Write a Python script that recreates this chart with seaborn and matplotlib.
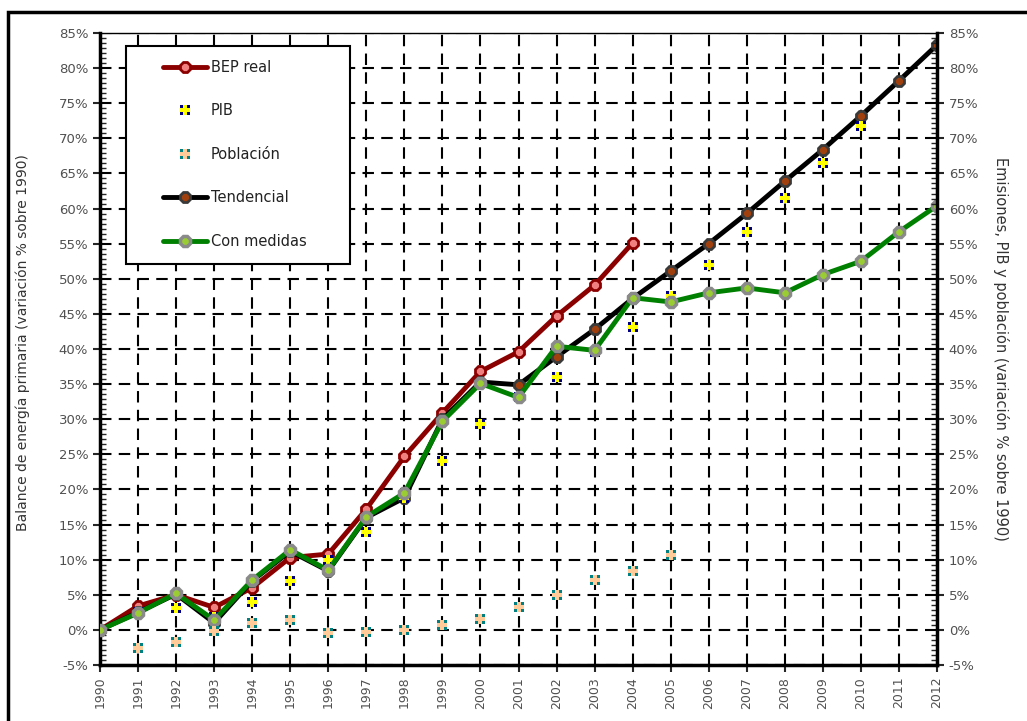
import numpy as np
import pandas as pd
import matplotlib
matplotlib.use("Agg")
import matplotlib.pyplot as plt
import seaborn as sns
from matplotlib.ticker import MultipleLocator, AutoMinorLocator, FuncFormatter
from matplotlib.patches import Rectangle
from matplotlib.legend_handler import HandlerTuple
from matplotlib.lines import Line2D

# datos (variacion % sobre 1990)
anios = list(range(1990, 2013))
bep_anios = list(range(1990, 2005))
bep_real = [0, 3.4, 5.0, 3.2, 6.0, 10.3, 10.8, 17.2, 24.7, 30.9, 36.8, 39.6, 44.7, 49.1, 55.1]
pib_anios = list(range(1991, 2011))
pib = [2.5, 3.1, 1.8, 4.0, 6.9, 9.9, 14.0, 18.8, 24.0, 29.3, 33.2, 36.0, 39.6, 43.2,
       47.5, 52.0, 56.7, 61.5, 66.5, 71.7]
pob_anios = list(range(1991, 2006))
poblacion = [-2.6, -1.7, -0.2, 1.0, 1.4, -0.5, -0.3, 0.0, 0.7, 1.5, 3.2, 5.0, 7.1, 8.4, 10.7]
tendencial = [0, 2.5, 5.1, 1.0, 7.0, 11.2, 8.4, 16.0, 18.8, 30.0, 35.3, 34.9, 38.9, 42.8,
              47.2, 51.1, 55.0, 59.3, 63.9, 68.4, 73.2, 78.2, 83.3]
con_medidas = [0, 2.4, 5.2, 1.4, 7.1, 11.4, 8.5, 16.1, 19.5, 29.7, 35.1, 33.1, 40.4, 39.8,
               47.3, 46.7, 48.0, 48.7, 48.0, 50.6, 52.5, 56.7, 60.4]

sns.set_style("white")
plt.rcParams['font.family'] = ['DejaVu Sans']

fig = plt.figure(figsize=(10.27, 7.21), dpi=100)
ax = fig.add_axes([100/1027, 1-665/721, 837/1027, 632/721])

rojo = '#8b0000'
ms = 7.5
sns.lineplot(x=bep_anios, y=bep_real, ax=ax, color=rojo, lw=3.5, marker='8', ms=ms,
             mfc='#f08080', mec=rojo, mew=2, zorder=3)
sns.lineplot(x=anios, y=tendencial, ax=ax, color='black', lw=3.5, marker='8', ms=ms,
             mfc='#a0400f', mec='#3a3a3a', mew=2, zorder=4)
# PIB: cuadro azul con cruz amarilla
ax.scatter(pib_anios, pib, marker='s', s=55, color='#000080', lw=0, zorder=5)
ax.scatter(pib_anios, pib, marker='P', s=60, color='#ffff00', lw=0, zorder=5)
sns.lineplot(x=anios, y=con_medidas, ax=ax, color='#008000', lw=3.5, marker='8', ms=ms,
             mfc='#9acd32', mec='#8a8a8a', mew=2.5, zorder=6)
# Poblacion: cuadro verde azulado con cruz salmon
ax.scatter(pob_anios, poblacion, marker='s', s=55, color='#008080', lw=0, zorder=7)
ax.scatter(pob_anios, poblacion, marker='P', s=60, color='#ffcc99', lw=0, zorder=7)

ax.set_xlim(1990, 2012)
ax.set_ylim(-5, 85)
ax.xaxis.set_major_locator(MultipleLocator(1))
ax.yaxis.set_major_locator(MultipleLocator(5))
ax.yaxis.set_minor_locator(AutoMinorLocator(7))
pct = FuncFormatter(lambda v, p: f"{v:.0f}%")
ax.yaxis.set_major_formatter(pct)
ax.grid(True, which='major', color='black', ls=(0, (5.5, 3.5)), lw=1.5)
gris = '#505050'
ax.tick_params(axis='x', which='major', direction='out', length=5, width=1.5,
               labelsize=9, labelcolor=gris, labelrotation=90, bottom=True)
ax.tick_params(axis='y', which='major', direction='out', length=5, width=1.5,
               labelsize=9.5, labelcolor=gris, left=True)
ax.tick_params(axis='y', which='minor', direction='in', length=4, width=1, left=True)
for s in ['left', 'bottom']:
    ax.spines[s].set_linewidth(2.5)
    ax.spines[s].set_color('black')
ax.spines['top'].set_linewidth(1)
ax.spines['top'].set_color('black')
ax.spines['right'].set_visible(False)
ax.set_ylabel("Balance de energía primaria (variación % sobre 1990)", fontsize=10,
              color='#333333')
ax.yaxis.set_label_coords(-70/837, 0.51)
ax.set_xlabel("")

ax2 = ax.twinx()
ax2.set_ylim(-5, 85)
ax2.yaxis.set_major_locator(MultipleLocator(5))
ax2.yaxis.set_minor_locator(AutoMinorLocator(7))
ax2.yaxis.set_major_formatter(pct)
ax2.tick_params(axis='y', which='major', direction='out', length=5, width=1.5,
                labelsize=9.5, labelcolor=gris, right=True)
ax2.tick_params(axis='y', which='minor', direction='in', length=4, width=1, right=True)
ax2.spines['right'].set_linewidth(2.5)
ax2.spines['right'].set_color('black')
for s in ['left', 'top', 'bottom']:
    ax2.spines[s].set_visible(False)
ax2.set_ylabel("Emisiones, PIB y población (variación % sobre 1990)", fontsize=10.5,
               color='#333333', rotation=270, va='center')
ax2.yaxis.set_label_coords(1 + 64/837, 0.5)
ax2.grid(False)

# recuadro de la leyenda
ax2.add_patch(Rectangle((26/837, (665-264)/632), 224/837, 218/632,
                        transform=ax2.transAxes, facecolor='white', edgecolor='black',
                        lw=1.5, zorder=4))

# leyenda
h_bep = Line2D([], [], color=rojo, lw=3.5, marker='8', ms=ms, mfc='#f08080', mec=rojo, mew=2)
h_pib = (Line2D([], [], ls='', marker='s', ms=7, color='#000080', mew=0),
         Line2D([], [], ls='', marker='P', ms=7.5, color='#ffff00', mew=0))
h_pob = (Line2D([], [], ls='', marker='s', ms=7, color='#008080', mew=0),
         Line2D([], [], ls='', marker='P', ms=7.5, color='#ffcc99', mew=0))
h_ten = Line2D([], [], color='black', lw=3.5, marker='8', ms=ms, mfc='#a0400f', mec='#3a3a3a', mew=2)
h_con = Line2D([], [], color='#008000', lw=3.5, marker='8', ms=ms, mfc='#9acd32', mec='#8a8a8a', mew=2.5)
leg = ax2.legend([h_bep, h_pib, h_pob, h_ten, h_con],
                 ["BEP real", "PIB", "Población", "Tendencial", "Con medidas"],
                 handler_map={tuple: HandlerTuple(ndivide=1)},
                 loc='upper left',
                 bbox_to_anchor=((163-100)/837, (665-60)/632),
                 fontsize=10.5, labelspacing=1.95, handlelength=3.0, handletextpad=0.27,
                 borderpad=0, borderaxespad=0, frameon=False)
leg.set_zorder(5)
for t in leg.get_texts():
    t.set_color('#222222')

fig.patches.append(Rectangle((8/1027, -0.1), 1.2, (721-12)/721 + 0.1,
                             transform=fig.transFigure, fill=False, lw=2.5,
                             edgecolor='black'))

fig.savefig("out.png", dpi=100)
